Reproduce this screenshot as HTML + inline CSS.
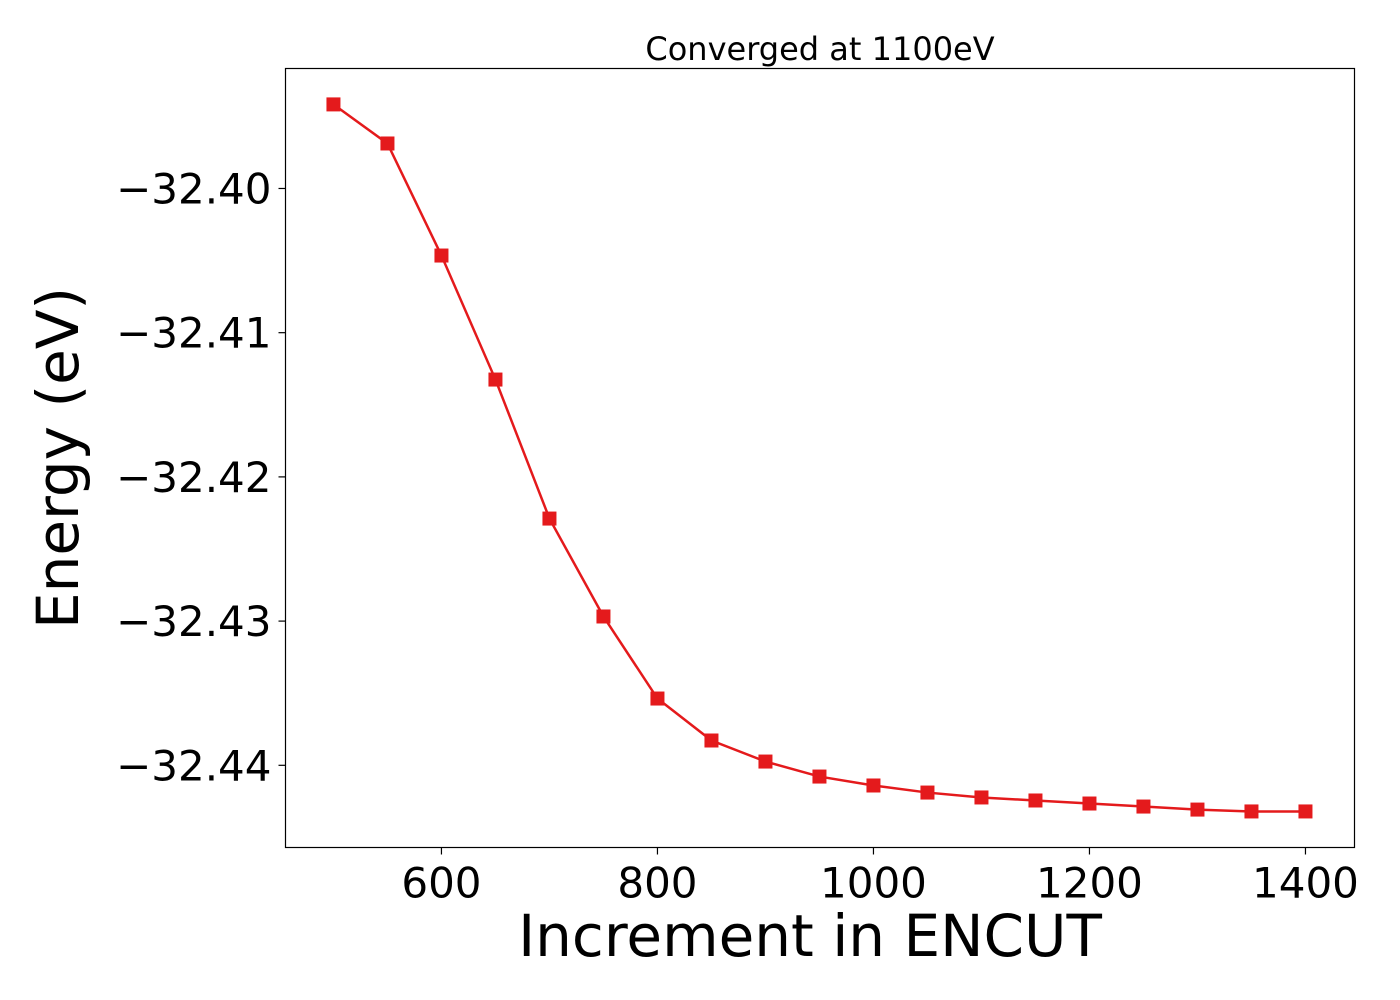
<!DOCTYPE html>
<html><head><meta charset="utf-8"><style>
html,body{margin:0;padding:0;background:#fff;}
svg{display:block;font-family:"DejaVu Sans","Liberation Sans",sans-serif;}
</style></head><body>
<svg id="chart" width="1400" height="1000" xmlns="http://www.w3.org/2000/svg">
<rect x="0" y="0" width="1400" height="1000" fill="#fff"/>
<text x="820" y="60" text-anchor="middle" font-size="32" fill="#000">Converged at 1100eV</text>
<g id="xticks"></g>
<g id="yticks"></g>
<text x="810" y="956" text-anchor="middle" font-size="58" fill="#000">Increment in ENCUT</text>
<text transform="translate(78,458) rotate(-90)" text-anchor="middle" font-size="58" fill="#000">Energy (eV)</text>
<g id="series"></g>
<rect x="285.5" y="68.5" width="1069" height="779" fill="none" stroke="#000" stroke-width="1.2"/>
</svg>
<script>
const encut = [500,550,600,650,700,750,800,850,900,950,1000,1050,1100,1150,1200,1250,1300,1350,1400];
const energy = [-32.39417,-32.39688,-32.40465,-32.41325,-32.42289,-32.42968,-32.43537,-32.43828,-32.43974,-32.44078,-32.44140,-32.44189,-32.44223,-32.44244,-32.44265,-32.44286,-32.44307,-32.44320,-32.44320];
const xTicks = [600,800,1000,1200,1400];
const yTicks = [-32.40,-32.41,-32.42,-32.43,-32.44];
const yTickLabels = ["\u221232.40","\u221232.41","\u221232.42","\u221232.43","\u221232.44"];

const X0=285.5,X1=1354.5,Y0=68.5,Y1=847.5;
const xMin=455.6,xMax=1445.4,yMin=-32.4457,yMax=-32.39168;
function sx(v){return X0+(v-xMin)/(xMax-xMin)*(X1-X0);}
function sy(v){return Y1-(v-yMin)/(yMax-yMin)*(Y1-Y0);}
const NS="http://www.w3.org/2000/svg";
function mk(tag,attrs){const e=document.createElementNS(NS,tag);for(const k in attrs)e.setAttribute(k,attrs[k]);return e;}

const gx=document.getElementById('xticks');
xTicks.forEach(t=>{
  const l=mk('line',{x1:sx(t),x2:sx(t),y1:Y1,y2:Y1+7,stroke:'#000','stroke-width':1.2});
  
  
  gx.appendChild(l);
  const tx=mk('text',{x:sx(t),y:Y1+50,'text-anchor':'middle','font-size':42,fill:'#000'});
  tx.textContent=String(t);
  
  
  gx.appendChild(tx);
});
const gy=document.getElementById('yticks');
yTicks.forEach((t,i)=>{
  const l=mk('line',{x1:X0-7,x2:X0,y1:sy(t),y2:sy(t),stroke:'#000','stroke-width':1.2});
  
  
  gy.appendChild(l);
  const tx=mk('text',{x:X0-14,y:sy(t)+15,'text-anchor':'end','font-size':42,fill:'#000'});
  tx.textContent=yTickLabels[i];
  
  
  gy.appendChild(tx);
});
const gs=document.getElementById('series');
const pts=encut.map((x,i)=>sx(x)+','+sy(energy[i])).join(' ');
const pl=mk('polyline',{points:pts,fill:'none',stroke:'#e41a1c','stroke-width':2.5});


gs.appendChild(pl);
encut.forEach((x,i)=>{
  const r=mk('rect',{x:sx(x)-7,y:sy(energy[i])-7,width:14,height:14,fill:'#e41a1c'});
  
  
  gs.appendChild(r);
});
</script>
</body></html>
